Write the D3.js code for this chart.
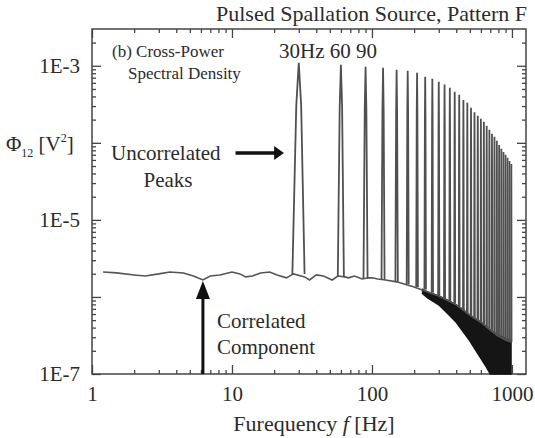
<!DOCTYPE html>
<html>
<head>
<meta charset="utf-8">
<script src="https://cdn.jsdelivr.net/npm/d3@7"></script>
<style>
  body { margin: 0; background: #fff; }
  text { font-family: "Liberation Serif", "DejaVu Serif", serif; fill: #2b2b2b; }
</style>
</head>
<body>
<svg width="535" height="438"></svg>
<script>
// background (correlated) spectrum
const bgFreq = [1.2, 1.5, 2, 2.4, 3, 3.6, 4.5, 5.3, 6.2, 7, 8.2, 10, 11.4, 12.5, 14, 16, 18.6, 21, 24.5, 27.5,
  33, 35.8, 40, 45, 52, 57, 64, 68, 75, 85, 95, 100, 110, 125, 150, 200, 300, 400, 500, 600, 700, 800, 900, 985];
const bgPsd = [2.11e-6, 2.05e-6, 1.93e-6, 1.87e-6, 1.99e-6, 2.11e-6, 2.05e-6, 1.87e-6, 1.66e-6, 1.87e-6,
  1.93e-6, 2.11e-6, 1.99e-6, 1.82e-6, 1.87e-6, 2.05e-6, 2.11e-6, 1.93e-6, 1.77e-6, 1.99e-6,
  1.82e-6, 1.66e-6, 1.93e-6, 1.87e-6, 1.66e-6, 1.87e-6, 1.82e-6, 1.77e-6, 1.87e-6, 1.71e-6,
  1.77e-6, 1.77e-6, 1.71e-6, 1.66e-6, 1.57e-6, 1.35e-6, 1.03e-6, 7.9e-7, 5.8e-7, 4.7e-7,
  3.7e-7, 3.1e-7, 2.77e-7, 2.6e-7];

// uncorrelated peaks (30 Hz harmonics)
const peakFreq = [30, 60, 90, 120, 150, 180, 210, 240, 270, 300, 330, 360, 390, 420, 450, 480, 510,
  540, 570, 600, 630, 660, 690, 720, 750, 780, 810, 840, 870, 900, 930, 960, 990];
const peakPsd = [1.09e-3, 1.03e-3, 9.7e-4, 9.4e-4, 8.9e-4, 8.6e-4, 8.1e-4, 7.2e-4, 6.8e-4, 6.2e-4,
  5.7e-4, 5.2e-4, 4.6e-4, 4.2e-4, 3.6e-4, 3.3e-4, 2.85e-4, 2.5e-4, 2.24e-4, 2.05e-4,
  1.87e-4, 1.66e-4, 1.48e-4, 1.31e-4, 1.2e-4, 1.06e-4, 9.4e-5, 8.4e-5, 7.6e-5, 7.0e-5,
  6.4e-5, 5.8e-5, 5.3e-5];
const peakBase = [1.99e-6, 1.82e-6, 1.74e-6, 1.68e-6, 1.57e-6, 1.46e-6, 1.35e-6, 1.25e-6, 1.13e-6, 1.03e-6,
  9.5e-7, 8.8e-7, 8.2e-7, 7.5e-7, 6.7e-7, 6.1e-7, 5.6e-7, 5.2e-7, 4.9e-7, 4.7e-7,
  4.3e-7, 4.0e-7, 3.8e-7, 3.5e-7, 3.3e-7, 3.1e-7, 3.0e-7, 2.9e-7, 2.85e-7, 2.77e-7,
  2.7e-7, 2.65e-7, 2.6e-7];

// dense noise band at high frequency
const noiseFreq = [230, 250, 300, 350, 400, 450, 500, 550, 600, 650, 700, 800, 900, 985];
const noiseTop = [1.25e-6, 1.16e-6, 1.03e-6, 9.0e-7, 7.9e-7, 6.8e-7, 5.8e-7, 5.2e-7, 4.7e-7, 4.2e-7,
  3.7e-7, 3.2e-7, 2.9e-7, 2.7e-7];
const noiseLow = [1.1e-6, 9.7e-7, 7.9e-7, 6.0e-7, 4.7e-7, 3.5e-7, 2.7e-7, 2.05e-7, 1.6e-7, 1.27e-7,
  1e-7, 1e-7, 1e-7, 1e-7];

const xDomain = [1, 1260];
const yDomain = [1e-7, 3e-3];
const xTickValues = [1, 10, 100, 1000];
const xTickLabels = ['1', '10', '100', '1000'];
const yTickValues = [1e-3, 1e-5, 1e-7];
const yTickLabels = ['1E-3', '1E-5', '1E-7'];

const svg = d3.select('svg');
const m = { left: 92, right: 526, top: 29, bottom: 374 };

const x = d3.scaleLog().domain(xDomain).range([m.left, m.right]);
const y = d3.scaleLog().domain(yDomain).range([m.bottom, m.top]);

const xMinor = [];
[1, 10, 100, 1000].forEach(d => d3.range(2, 10).forEach(k => { if (k * d < xDomain[1]) xMinor.push(k * d); }));
const yMinor = [];
[1e-7, 1e-6, 1e-5, 1e-4, 1e-3].forEach(d => d3.range(2, 10).forEach(k => { if (k * d < yDomain[1]) yMinor.push(k * d); }));
const yMajor = [1e-7, 1e-6, 1e-5, 1e-4, 1e-3];

function styleAxis(g) {
  g.select('.domain').remove();
  g.selectAll('line').attr('stroke', '#444').attr('stroke-width', 1.3);
}

// minor ticks, all four sides
svg.append('g').attr('transform', `translate(0,${m.bottom})`)
  .call(d3.axisBottom(x).tickValues(xMinor).tickSize(-4).tickFormat('')).call(styleAxis);
svg.append('g').attr('transform', `translate(0,${m.top})`)
  .call(d3.axisTop(x).tickValues(xMinor).tickSize(-4).tickFormat('')).call(styleAxis);
svg.append('g').attr('transform', `translate(${m.left},0)`)
  .call(d3.axisLeft(y).tickValues(yMinor).tickSize(-4).tickFormat('')).call(styleAxis);
svg.append('g').attr('transform', `translate(${m.right},0)`)
  .call(d3.axisRight(y).tickValues(yMinor).tickSize(-4).tickFormat('')).call(styleAxis);

// major ticks
svg.append('g').attr('transform', `translate(0,${m.bottom})`)
  .call(d3.axisBottom(x).tickValues(xTickValues).tickSize(-9).tickPadding(12)
    .tickFormat((d, i) => xTickLabels[i])).call(styleAxis);
svg.append('g').attr('transform', `translate(0,${m.top})`)
  .call(d3.axisTop(x).tickValues(xTickValues).tickSize(-9).tickFormat('')).call(styleAxis);
svg.append('g').attr('transform', `translate(${m.left},0)`)
  .call(d3.axisLeft(y).tickValues(yMajor).tickSize(-9).tickFormat('')).call(styleAxis);
svg.append('g').attr('transform', `translate(${m.right},0)`)
  .call(d3.axisRight(y).tickValues(yMajor).tickSize(-9).tickFormat('')).call(styleAxis);
svg.append('g').attr('transform', `translate(${m.left},0)`)
  .call(d3.axisLeft(y).tickValues(yTickValues).tickSize(0).tickPadding(12)
    .tickFormat((d, i) => yTickLabels[i])).call(styleAxis);

svg.selectAll('.tick text')
  .style('font-family', '"Liberation Serif", serif')
  .style('font-size', '21px')
  .attr('fill', '#2b2b2b');

// frame
svg.append('rect')
  .attr('x', m.left).attr('y', m.top)
  .attr('width', m.right - m.left).attr('height', m.bottom - m.top)
  .attr('fill', 'none').attr('stroke', '#444').attr('stroke-width', 1.5);

const plot = svg.append('g');

// noise band
const band = noiseFreq.map((f, i) => ({ f, top: noiseTop[i], low: noiseLow[i] }));
plot.append('path')
  .datum(band)
  .attr('fill', '#151515')
  .attr('stroke', '#151515')
  .attr('stroke-width', 1.5)
  .attr('d', d3.area().x(d => x(d.f)).y0(d => y(d.low)).y1(d => y(d.top)));

// background line
const bg = bgFreq.map((f, i) => ({ f, v: bgPsd[i] }));
plot.append('path')
  .datum(bg)
  .attr('fill', 'none')
  .attr('stroke', '#555')
  .attr('stroke-width', 1.6)
  .attr('d', d3.line().x(d => x(d.f)).y(d => y(d.v)));

// peaks
const halfWidth = 3; // Hz
const line = d3.line().x(d => x(d[0])).y(d => y(d[1]));
plot.selectAll('path.peak')
  .data(peakFreq.map((f, i) => ({ f, top: peakPsd[i], base: peakBase[i] })))
  .join('path')
  .attr('class', 'peak')
  .attr('fill', 'none')
  .attr('stroke', '#505050')
  .attr('stroke-width', 1.8)
  .attr('d', d => {
    const knee = Math.pow(d.top, 0.8) * Math.pow(d.base, 0.2);
    return line([
      [d.f - halfWidth, d.base],
      [d.f - halfWidth * 0.4, knee],
      [d.f, d.top],
      [d.f + halfWidth * 0.4, knee],
      [d.f + halfWidth, d.base],
    ]);
  });

// annotations
const txt = (s, xx, yy, size, anchor) => svg.append('text')
  .attr('x', xx).attr('y', yy)
  .attr('font-size', size)
  .attr('text-anchor', anchor || 'start')
  .text(s);

txt('Pulsed Spallation Source, Pattern F', 527, 21, 22, 'end');
txt('(b) Cross-Power', 112, 57, 17);
txt('Spectral Density', 128, 79, 17);
txt('30Hz 60 90', 279, 58, 21);
txt('Uncorrelated', 111, 160, 21);
txt('Peaks', 168, 187, 21, 'middle');
txt('Correlated', 217, 328, 21);
txt('Component', 217, 354, 21);

// y label
const yl = svg.append('text').attr('x', 6).attr('y', 151).attr('font-size', 21);
yl.append('tspan').text('Φ');
yl.append('tspan').attr('font-size', 12).attr('dy', 6).text('12');
yl.append('tspan').attr('dy', -6).text(' [V');
yl.append('tspan').attr('font-size', 12).attr('dy', -9).text('2');
yl.append('tspan').attr('dy', 9).text(']');

// x label
const xl = svg.append('text').attr('x', 314).attr('y', 431).attr('font-size', 22).attr('text-anchor', 'middle');
xl.append('tspan').text('Furequency ');
xl.append('tspan').attr('font-style', 'italic').text('f');
xl.append('tspan').text(' [Hz]');

// arrows
const arrowY = y(7.4e-5);
svg.append('line')
  .attr('x1', x(10.6)).attr('x2', x(20.5))
  .attr('y1', arrowY).attr('y2', arrowY)
  .attr('stroke', '#111').attr('stroke-width', 3.5);
svg.append('path')
  .attr('fill', '#111')
  .attr('d', `M${x(23.5)},${arrowY}L${x(20)},${arrowY - 7}L${x(20)},${arrowY + 7}Z`);

const dipX = x(6.2);
const dipY = y(1.66e-6);
svg.append('line')
  .attr('x1', dipX).attr('x2', dipX)
  .attr('y1', m.bottom).attr('y2', dipY + 14)
  .attr('stroke', '#111').attr('stroke-width', 3);
svg.append('path')
  .attr('fill', '#111')
  .attr('d', `M${dipX},${dipY + 1}L${dipX - 7},${dipY + 19}L${dipX + 7},${dipY + 19}Z`);
</script>
</body>
</html>
